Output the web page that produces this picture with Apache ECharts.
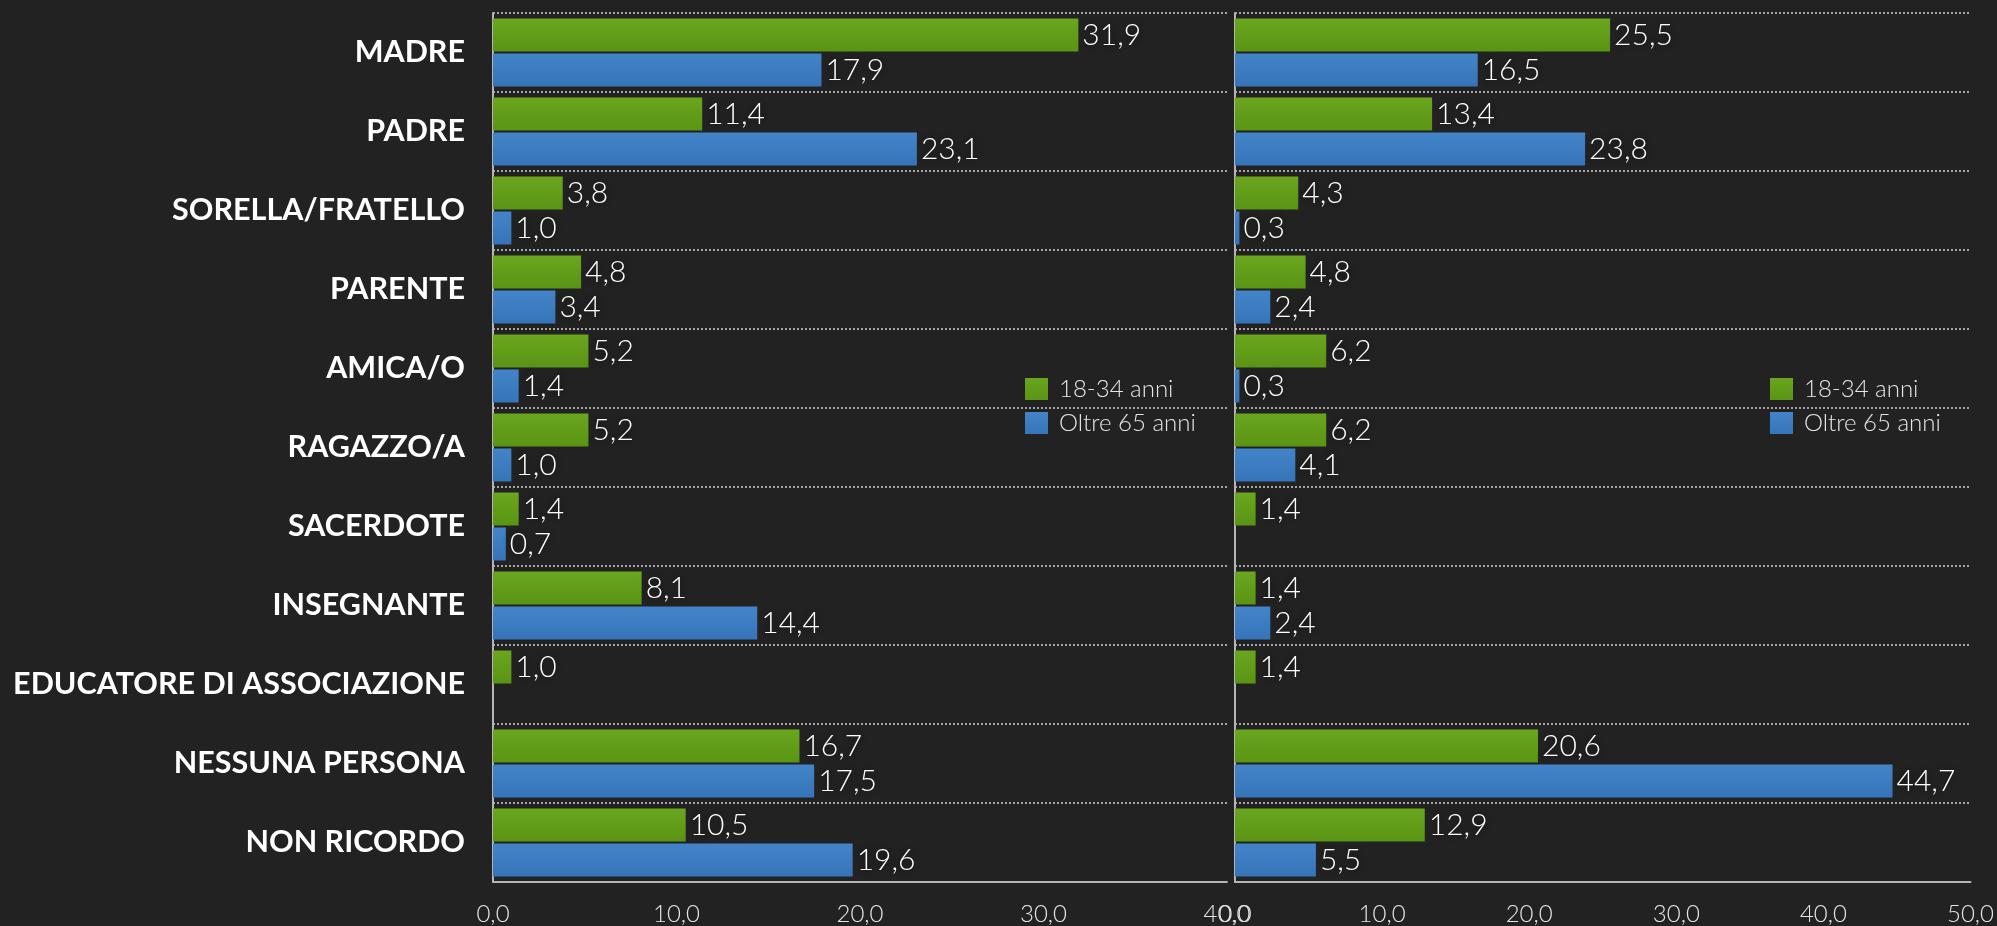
<!DOCTYPE html>
<html>
<head>
<meta charset="utf-8">
<script src="https://cdn.jsdelivr.net/npm/echarts@6/dist/echarts.min.js"></script>
<style>
  html, body { margin: 0; padding: 0; background: #222222; }
  #chart { width: 1997px; height: 926px; }
</style>
</head>
<body>
<div id="chart"></div>
<script>
// categorie (asse verticale)
var categorie = ['MADRE', 'PADRE', 'SORELLA/FRATELLO', 'PARENTE', 'AMICA/O', 'RAGAZZO/A',
  'SACERDOTE', 'INSEGNANTE', 'EDUCATORE DI ASSOCIAZIONE', 'NESSUNA PERSONA', 'NON RICORDO'];
var nomiSerie = ['18-34 anni', 'Oltre 65 anni'];

// grafico di sinistra
var sxGiovani = [31.9, 11.4, 3.8, 4.8, 5.2, 5.2, 1.4, 8.1, 1.0, 16.7, 10.5];
var sxAnziani = [17.9, 23.1, 1.0, 3.4, 1.4, 1.0, 0.7, 14.4, null, 17.5, 19.6];
// grafico di destra
var dxGiovani = [25.5, 13.4, 4.3, 4.8, 6.2, 6.2, 1.4, 1.4, 1.4, 20.6, 12.9];
var dxAnziani = [16.5, 23.8, 0.3, 2.4, 0.3, 4.1, null, 2.4, null, 44.7, 5.5];

var sxMax = 40, dxMax = 50, passo = 10;

var chart = echarts.init(document.getElementById('chart'));

var verde = new echarts.graphic.LinearGradient(0, 0, 0, 1, [
  { offset: 0, color: '#6aa61e' }, { offset: 1, color: '#5a9414' }
]);
var blu = new echarts.graphic.LinearGradient(0, 0, 0, 1, [
  { offset: 0, color: '#4384c8' }, { offset: 1, color: '#3674b9' }
]);

var virgola = function (v) {
  return Number(v).toFixed(1).replace('.', ',');
};

function asseX(idx, max) {
  return {
    type: 'value', gridIndex: idx, min: 0, max: max, interval: passo,
    axisLine: { show: true, lineStyle: { color: '#b5b5b5', width: 2 } },
    axisTick: { show: false },
    splitLine: { show: false },
    axisLabel: {
      formatter: virgola, color: '#e6e6e6', fontSize: 24,
      fontFamily: 'Lato', fontWeight: 300, margin: 20
    }
  };
}

function asseY(idx, mostraEtichette) {
  return {
    type: 'category', gridIndex: idx, data: categorie, inverse: true,
    axisLine: { show: true, lineStyle: { color: '#b5b5b5', width: 2 } },
    axisTick: { show: false },
    splitLine: { show: true, lineStyle: { color: '#d0d0d0', type: [2, 2], width: 1.5 } },
    axisLabel: {
      show: mostraEtichette, color: '#ffffff', fontSize: 30.5,
      fontFamily: 'Lato', fontWeight: 'bold', margin: 28
    }
  };
}

function serie(nome, dati, colore, idx) {
  return {
    name: nome, type: 'bar', data: dati,
    xAxisIndex: idx, yAxisIndex: idx,
    barWidth: 33, barGap: '6%',
    itemStyle: { color: colore },
    label: {
      show: true, position: 'right', distance: 4,
      formatter: function (p) { return virgola(p.value); },
      color: '#ffffff', fontSize: 30, fontFamily: 'Lato', fontWeight: 300,
      textShadowColor: 'rgba(0,0,0,0.7)', textShadowBlur: 8
    }
  };
}

function legenda(sinistra) {
  return {
    orient: 'vertical', left: sinistra, top: 377, padding: 0,
    data: nomiSerie, icon: 'rect', itemWidth: 23, itemHeight: 22, itemGap: 10,
    textStyle: { color: '#e6e6e6', fontSize: 24, fontFamily: 'Lato', fontWeight: 300, padding: [0, 0, 0, 6] }
  };
}

chart.setOption({
  backgroundColor: '#222222',
  animation: false,
  grid: [
    { left: 493, right: 770, top: 13, bottom: 44 },
    { left: 1235, right: 25, top: 13, bottom: 44 }
  ],
  legend: [legenda(1025), legenda(1770)],
  xAxis: [asseX(0, sxMax), asseX(1, dxMax)],
  yAxis: [asseY(0, true), asseY(1, false)],
  series: [
    serie(nomiSerie[0], sxGiovani, verde, 0),
    serie(nomiSerie[1], sxAnziani, blu, 0),
    serie(nomiSerie[0], dxGiovani, verde, 1),
    serie(nomiSerie[1], dxAnziani, blu, 1)
  ]
});
</script>
</body>
</html>
